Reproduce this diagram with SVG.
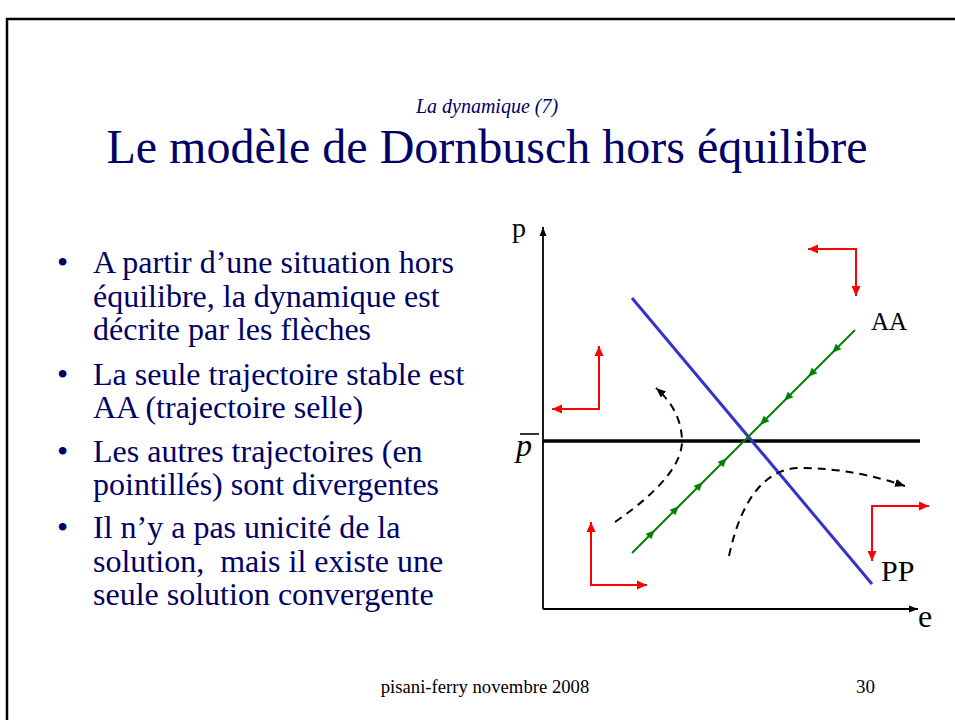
<svg xmlns="http://www.w3.org/2000/svg" width="955" height="720" viewBox="0 0 955 720">
<style>
  .red { stroke: #ff0000; stroke-width: 2; fill: none; }
  .green { stroke: #008000; stroke-width: 2; fill: none; }
  .dash { stroke: #000000; stroke-width: 2; fill: none; stroke-dasharray: 8 6; }
  .axis { stroke: #000000; stroke-width: 1.8; fill: none; }
</style>
<defs>
  <marker id="redHead" markerUnits="userSpaceOnUse" markerWidth="12" markerHeight="10" refX="10" refY="5" orient="auto-start-reverse">
    <polygon points="0,0.5 10,5 0,9.5" fill="#ff0000"/>
  </marker>
  <marker id="greenHead" markerUnits="userSpaceOnUse" markerWidth="12" markerHeight="10" refX="5" refY="4.5" orient="auto">
    <polygon points="0,0.5 9,4.5 0,8.5" fill="#008000"/>
  </marker>
  <marker id="blackHead" markerUnits="userSpaceOnUse" markerWidth="12" markerHeight="10" refX="10" refY="4.5" orient="auto">
    <polygon points="0,0.5 10,4.5 0,8.5" fill="#000000"/>
  </marker>
  <marker id="axisHead" markerUnits="userSpaceOnUse" markerWidth="12" markerHeight="10" refX="9" refY="4" orient="auto">
    <polygon points="0,0.5 9,4 0,7.5" fill="#000000"/>
  </marker>
</defs>

<rect width="955" height="720" fill="#ffffff"/>
<path d="M7,720 V19 H955" fill="none" stroke="#000000" stroke-width="2.5"/>

<g id="title" font-family="'Liberation Serif', 'Times New Roman', serif" fill="#000066" text-anchor="middle">
  <text x="487" y="113" font-size="20" font-style="italic">La dynamique (7)</text>
  <text x="487" y="163" font-size="48">Le modèle de Dornbusch hors équilibre</text>
</g>

<g id="bullets" font-family="'Liberation Serif', 'Times New Roman', serif" fill="#000066" font-size="32">
  <text x="57" y="273">•</text>
  <text x="93" y="273">A partir d’une situation hors</text>
  <text x="93" y="307">équilibre, la dynamique est</text>
  <text x="93" y="340">décrite par les flèches</text>
  <text x="57" y="385">•</text>
  <text x="93" y="385">La seule trajectoire stable est</text>
  <text x="93" y="418">AA (trajectoire selle)</text>
  <text x="57" y="462">•</text>
  <text x="93" y="462">Les autres trajectoires (en</text>
  <text x="93" y="495">pointillés) sont divergentes</text>
  <text x="57" y="538">•</text>
  <text x="93" y="538">Il n’y a pas unicité de la</text>
  <text x="93" y="572" xml:space="preserve">solution,  mais il existe une</text>
  <text x="93" y="605">seule solution convergente</text>
</g>

<g id="axes" font-family="'Liberation Serif', 'Times New Roman', serif" fill="#000000">
  <line class="axis" x1="543" y1="609" x2="543" y2="227" marker-end="url(#axisHead)"/>
  <line class="axis" x1="543" y1="609" x2="918" y2="609" marker-end="url(#axisHead)"/>
  <text x="512" y="237" font-size="28">p</text>
  <text x="918" y="627" font-size="32">e</text>
</g>

<g id="pbar" font-family="'Liberation Serif', 'Times New Roman', serif" fill="#000000">
  <line x1="543" y1="441" x2="920" y2="441" stroke="#000000" stroke-width="3.5"/>
  <text x="516" y="456" font-size="32" font-style="italic">p</text>
  <line x1="520" y1="434" x2="539" y2="434" stroke="#000000" stroke-width="1.6"/>
</g>

<g id="PP" font-family="'Liberation Serif', 'Times New Roman', serif" fill="#000000">
  <line x1="632" y1="298" x2="872" y2="584" stroke="#3333cc" stroke-width="3"/>
  <text x="881" y="581" font-size="30">PP</text>
</g>

<g id="AA" font-family="'Liberation Serif', 'Times New Roman', serif" fill="#000000">
  <polyline class="green" points="855,330 835,350 811,374 787,398 763,422 746,439" marker-mid="url(#greenHead)"/>
  <polyline class="green" points="632,553 652,533 676,509 700,485 724,461 746,439" marker-mid="url(#greenHead)"/>
  <text x="871" y="330" font-size="25">AA</text>
</g>

<g id="connectors">
  <g id="red-arrows">
    <polyline class="red" points="808,249 856,249 856,296" marker-start="url(#redHead)" marker-end="url(#redHead)"/>
    <polyline class="red" points="599,346 599,409 552,409" marker-start="url(#redHead)" marker-end="url(#redHead)"/>
    <polyline class="red" points="591,522 591,585 647,585" marker-start="url(#redHead)" marker-end="url(#redHead)"/>
    <polyline class="red" points="929,506 872,506 872,561" marker-start="url(#redHead)" marker-end="url(#redHead)"/>
  </g>
  <g id="dashed-trajectories">
    <path class="dash" d="M615,522 Q683,475 682,440 Q681,410 656,388" marker-end="url(#blackHead)"/>
    <path class="dash" d="M729,556 C742,495 768,468 800,468 C840,468 875,476 905,486" marker-end="url(#blackHead)"/>
  </g>
</g>

<g id="footer" font-family="'Liberation Serif', 'Times New Roman', serif" fill="#000000">
  <text x="485" y="693" font-size="18.7" text-anchor="middle">pisani-ferry novembre 2008</text>
  <text x="856" y="693" font-size="19">30</text>
</g>
</svg>
